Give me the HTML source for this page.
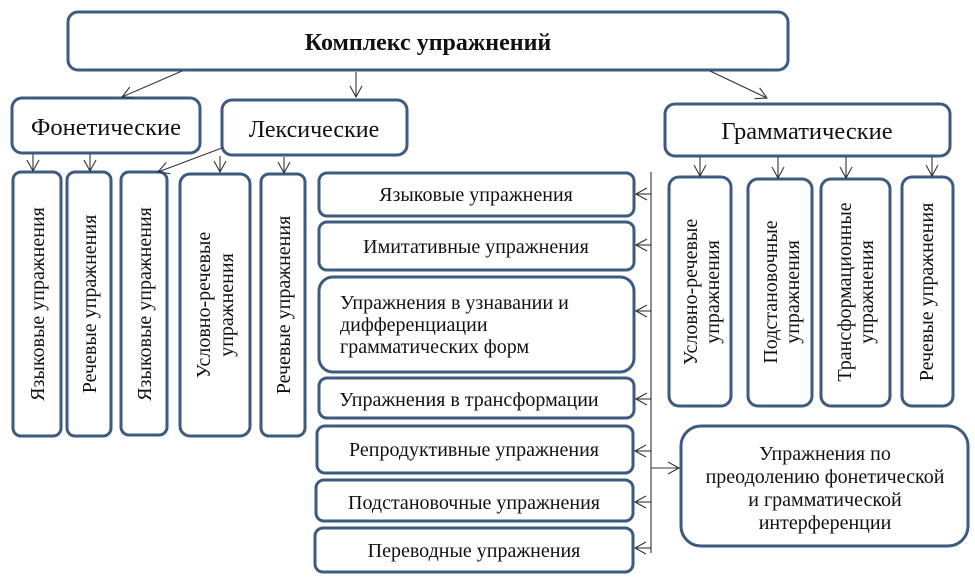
<!DOCTYPE html>
<html><head><meta charset="utf-8"><style>
html,body{margin:0;padding:0;background:#fff;}
svg{display:block;font-family:"Liberation Serif",serif;}
</style></head><body>
<svg width="975" height="585" viewBox="0 0 975 585" xmlns="http://www.w3.org/2000/svg">
<defs>
<marker id="a" markerWidth="14" markerHeight="14" refX="12" refY="7" orient="auto" markerUnits="userSpaceOnUse">
<path d="M1,1 L12,7 L1,13" fill="none" stroke="#333" stroke-width="1.1"/>
</marker>
</defs>
<g fill="#fff" stroke="#3d5a80" stroke-width="3">
<rect x="68" y="12" width="720" height="58" rx="10"/>
<rect x="12" y="98" width="188" height="55" rx="10"/>
<rect x="222" y="100" width="185" height="55" rx="10"/>
<rect x="665" y="104" width="285" height="52" rx="10"/>
<rect x="13" y="172" width="48" height="264" rx="8"/>
<rect x="67" y="172" width="44" height="264" rx="8"/>
<rect x="121" y="172" width="46" height="263" rx="8"/>
<rect x="180" y="174" width="70" height="262" rx="10"/>
<rect x="261" y="174" width="44" height="262" rx="8"/>
<rect x="319" y="173" width="315" height="43" rx="8"/>
<rect x="319" y="222" width="315" height="48" rx="8"/>
<rect x="319" y="277" width="315" height="95" rx="14"/>
<rect x="319" y="378" width="315" height="40" rx="8"/>
<rect x="317" y="426" width="316" height="47" rx="8"/>
<rect x="316" y="480" width="317" height="41" rx="8"/>
<rect x="315" y="528" width="318" height="44" rx="8"/>
<rect x="669" y="177" width="62" height="229" rx="10"/>
<rect x="748" y="179" width="64" height="227" rx="10"/>
<rect x="821" y="179" width="69" height="227" rx="10"/>
<rect x="902" y="177" width="51" height="229" rx="10"/>
<rect x="681" y="426" width="287" height="120" rx="20"/>
</g>
<g stroke="#333" stroke-width="1.1" fill="none">
<line x1="182" y1="71" x2="122" y2="97" marker-end="url(#a)"/>
<line x1="356" y1="72" x2="356" y2="97" marker-end="url(#a)"/>
<line x1="710" y1="71" x2="767" y2="98" marker-end="url(#a)"/>
<line x1="33" y1="154" x2="33" y2="171" marker-end="url(#a)"/>
<line x1="90" y1="154" x2="90" y2="171" marker-end="url(#a)"/>
<line x1="222" y1="148" x2="158" y2="172" marker-end="url(#a)"/>
<line x1="220" y1="156" x2="220" y2="172" marker-end="url(#a)"/>
<line x1="284" y1="157" x2="284" y2="173" marker-end="url(#a)"/>
<line x1="700" y1="157" x2="700" y2="176" marker-end="url(#a)"/>
<line x1="778" y1="157" x2="778" y2="178" marker-end="url(#a)"/>
<line x1="846" y1="157" x2="846" y2="178" marker-end="url(#a)"/>
<line x1="932" y1="157" x2="932" y2="176" marker-end="url(#a)"/>
<line x1="651" y1="172" x2="651" y2="553"/>
<line x1="651" y1="194" x2="636" y2="194" marker-end="url(#a)"/>
<line x1="651" y1="245" x2="636" y2="245" marker-end="url(#a)"/>
<line x1="651" y1="311" x2="636" y2="311" marker-end="url(#a)"/>
<line x1="651" y1="399" x2="636" y2="399" marker-end="url(#a)"/>
<line x1="651" y1="451" x2="635" y2="451" marker-end="url(#a)"/>
<line x1="651" y1="502" x2="635" y2="502" marker-end="url(#a)"/>
<line x1="651" y1="548" x2="635" y2="548" marker-end="url(#a)"/>
<line x1="651" y1="468" x2="679" y2="468" marker-end="url(#a)"/>
</g>
<g fill="#111" text-anchor="middle">
<text x="428" y="50" font-size="24" font-weight="bold">Комплекс упражнений</text>
<text x="106" y="135" font-size="24.5">Фонетические</text>
<text x="314" y="137" font-size="24">Лексические</text>
<text x="807" y="139" font-size="24.5">Грамматические</text>
<g font-size="20">
<text x="476" y="201">Языковые упражнения</text>
<text x="476" y="253">Имитативные упражнения</text>
<text x="469" y="406">Упражнения в трансформации</text>
<text x="474" y="456">Репродуктивные упражнения</text>
<text x="474" y="509">Подстановочные упражнения</text>
<text x="474" y="557">Переводные упражнения</text>
<text x="825" y="460">Упражнения по</text>
<text x="825" y="483">преодолению фонетической</text>
<text x="825" y="506">и грамматической</text>
<text x="825" y="529">интерференции</text>
</g>
<g font-size="20" text-anchor="start">
<text x="340" y="309">Упражнения в узнавании и</text>
<text x="340" y="331">дифференциации</text>
<text x="340" y="353">грамматических форм</text>
</g>
<g font-size="20">
<text transform="translate(44,304) rotate(-90)">Языковые упражнения</text>
<text transform="translate(96,304) rotate(-90)">Речевые упражнения</text>
<text transform="translate(151,304) rotate(-90)">Языковые упражнения</text>
<text transform="translate(210,305) rotate(-90)">Условно-речевые</text>
<text transform="translate(233,305) rotate(-90)">упражнения</text>
<text transform="translate(290,305) rotate(-90)">Речевые упражнения</text>
<text transform="translate(697,292) rotate(-90)">Условно-речевые</text>
<text transform="translate(719,292) rotate(-90)">упражнения</text>
<text transform="translate(777,292) rotate(-90)">Подстановочные</text>
<text transform="translate(799,292) rotate(-90)">упражнения</text>
<text transform="translate(851,292) rotate(-90)">Трансформационные</text>
<text transform="translate(873,292) rotate(-90)">упражнения</text>
<text transform="translate(933,292) rotate(-90)">Речевые упражнения</text>
</g>
</g>
</svg>
</body></html>
